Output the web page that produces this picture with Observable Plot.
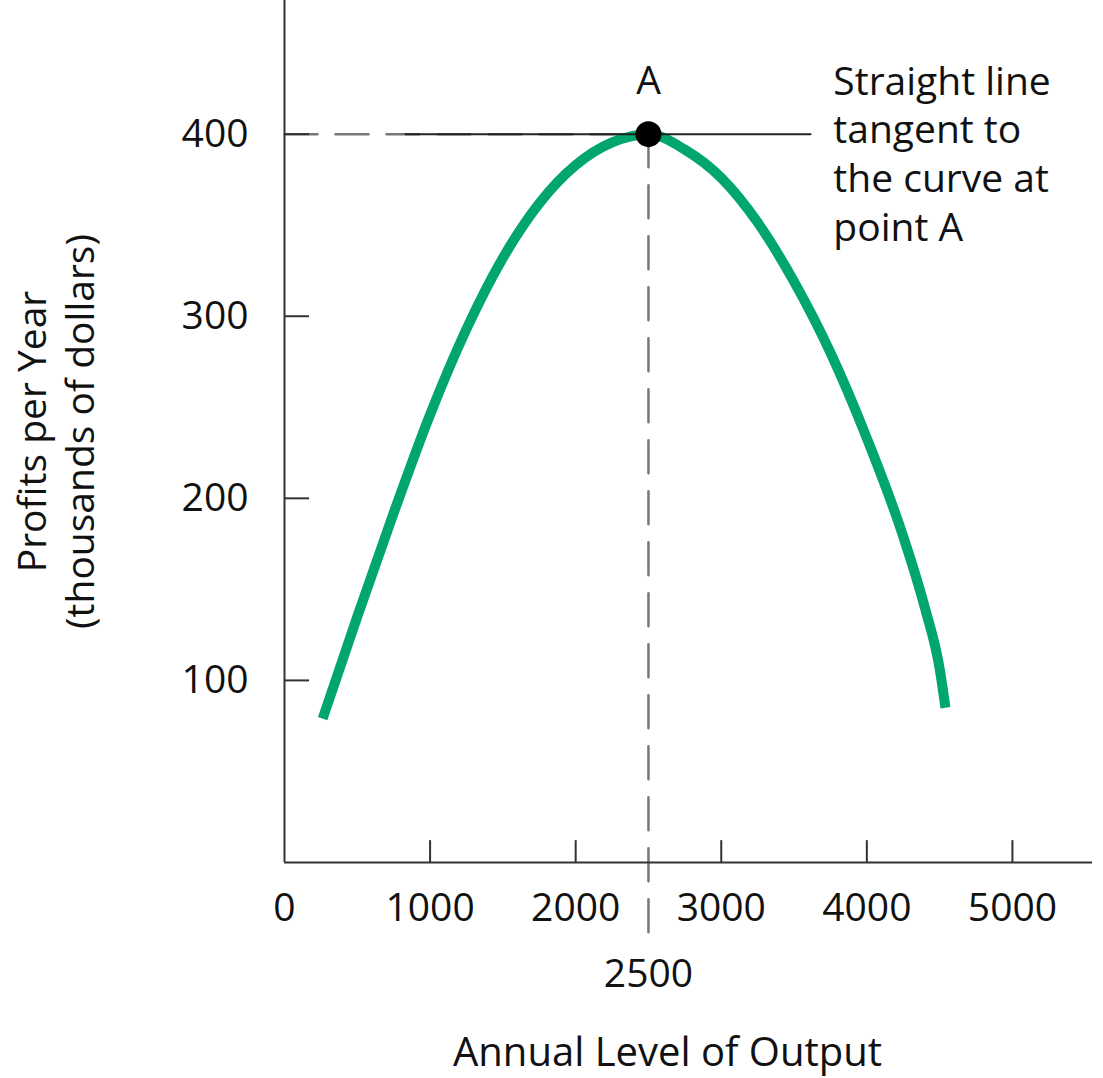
<!DOCTYPE html>
<html>
<head>
<meta charset="utf-8">
<script src="https://cdn.jsdelivr.net/npm/d3@7"></script>
<script src="https://cdn.jsdelivr.net/npm/@observablehq/plot@0.6"></script>
<style>
  html, body { margin: 0; padding: 0; background: #fff; }
  #chart svg { display: block; }
</style>
</head>
<body>
<div id="chart"></div>
<script>
// ---- data ----
const outputLevel = [262, 500, 750, 1000, 1250, 1500, 1750, 2000, 2250, 2500,
                     2750, 3000, 3250, 3500, 3750, 4000, 4250, 4400, 4500, 4540];
const profits     = [79, 135, 192, 246, 293, 332, 362, 383, 395.5, 400,
                     391.5, 376, 351.5, 319, 280, 233, 179, 139.5, 106.5, 85];
const xTickValues = [1000, 2000, 3000, 4000, 5000];
const xTickLabels = [0, 1000, 2000, 3000, 4000, 5000];
const yTickValues = [100, 200, 300, 400];
const pointA = [{x: 2500, y: 400, label: "A"}];
const tangentSpan = [830, 3613];
const annotationLines = ["Straight line", "tangent to", "the curve at", "point A"];
const xTitle = "Annual Level of Output";
const yTitleLines = ["Profits per Year", "(thousands of dollars)"];

const curve = outputLevel.map((x, i) => ({x, y: profits[i]}));
const tangent = tangentSpan.map(x => ({x, y: pointA[0].y}));

const FONT = "'Open Sans', 'Noto Sans', sans-serif";
const FS = 39;
const GREEN = "#00a66b";
const DASH = "33,18";

const chart = Plot.plot({
  width: 1103,
  height: 1078,
  marginLeft: 284,
  marginRight: 11,
  marginTop: 0,
  marginBottom: 216,
  x: {type: "linear", domain: [0, 5550], axis: null},
  y: {type: "linear", domain: [0, 473.4], axis: null},
  style: {fontFamily: FONT, background: "#fff", overflow: "visible"},
  marks: [
    // guide lines at point A
    Plot.line([{x: 0, y: 400}, {x: 2500, y: 400}], {x: "x", y: "y", stroke: "#777", strokeWidth: 2.5, strokeDasharray: DASH}),
    Plot.line([{x: 2500, y: 400}, {x: 2500, y: -39}], {x: "x", y: "y", stroke: "#777", strokeWidth: 2.5, strokeDasharray: DASH, clip: false}),
    // axis lines
    Plot.ruleX([0], {stroke: "#333", strokeWidth: 2}),
    Plot.ruleY([0], {stroke: "#333", strokeWidth: 2}),
    // inward ticks
    Plot.ruleX(xTickValues, {y1: 0, y2: 12, stroke: "#333", strokeWidth: 2}),
    Plot.ruleY(yTickValues, {x1: 0, x2: 172, stroke: "#333", strokeWidth: 2}),
    // tick labels
    Plot.text(xTickLabels, {x: d => d, y: 0, dy: 46, text: d => String(d), fontSize: FS, fill: "#111", lineAnchor: "middle"}),
    Plot.text(yTickValues, {x: 0, y: d => d, dx: -36, text: d => String(d), fontSize: FS, fill: "#111", textAnchor: "end", lineAnchor: "middle"}),
    Plot.text([2500], {x: d => d, y: 0, dy: 112, text: d => String(d), fontSize: FS, fill: "#111", lineAnchor: "middle"}),
    // profit curve
    Plot.line(curve, {x: "x", y: "y", stroke: GREEN, strokeWidth: 10, curve: "monotone-x", strokeLinecap: "butt"}),
    // tangent line
    Plot.line(tangent, {x: "x", y: "y", stroke: "#222", strokeWidth: 2}),
    // point A
    Plot.dot(pointA, {x: "x", y: "y", r: 13, fill: "#000", stroke: null}),
    Plot.text(pointA, {x: "x", y: "y", text: "label", dy: -53, fontSize: FS, fill: "#111", lineAnchor: "middle"}),
    // annotation
    Plot.text([annotationLines.join("\n")], {x: 3770, y: 400, text: d => d, textAnchor: "start", lineAnchor: "middle", dy: 18, fontSize: FS, lineHeight: 1.245, fill: "#111"}),
    // axis titles
    Plot.text([xTitle], {frameAnchor: "bottom", text: d => d, dy: 191, dx: -21, fontSize: 40, fill: "#111", lineAnchor: "middle"}),
    Plot.text([yTitleLines.join("\n")], {frameAnchor: "left", text: d => d, rotate: -90, dx: -230, textAnchor: "middle", fontSize: FS, lineHeight: 1.23, fill: "#111", lineAnchor: "middle"})
  ]
});
document.getElementById("chart").appendChild(chart);
</script>
</body>
</html>
